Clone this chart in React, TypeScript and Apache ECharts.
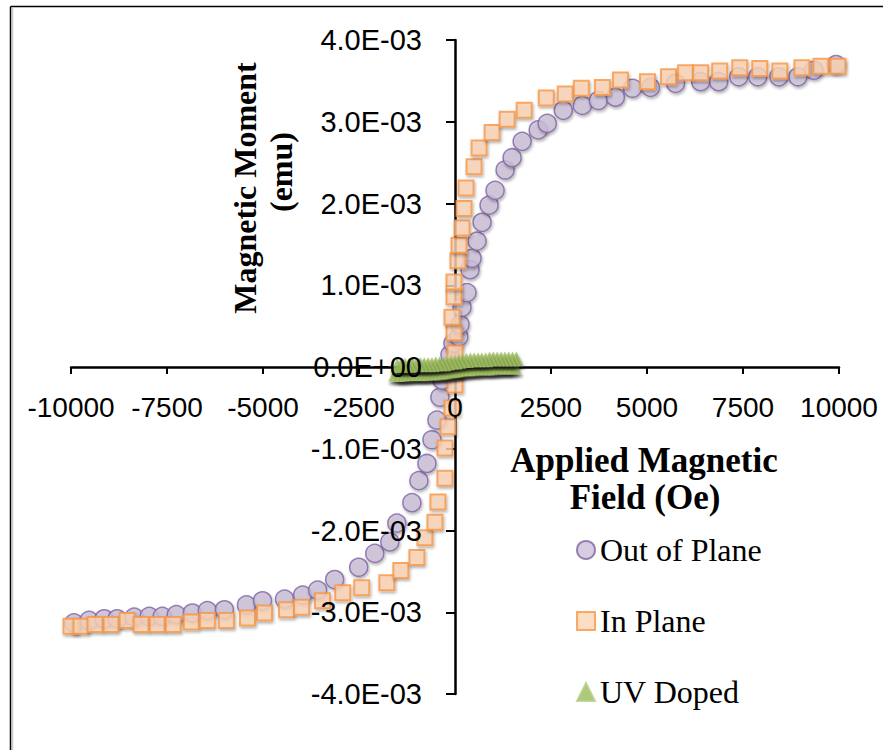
import React, { useEffect, useRef } from "react";
import * as echarts from "echarts";

// Applied magnetic field (Oe) and magnetic moment (in units of 1E-03 emu)
const outOfPlaneField = [-9922, -9530, -9138, -8799, -8355, -7963, -7624, -7258, -6841, -6449, -6005, -5431, -5013, -4439, -3969, -3577, -3133, -2507, -2089, -1697, -1514, -1123, -940, -731, -600, -470, -392, -339, -200, -131, -52, 100, 131, 183, 313, 392, 444, 574, 705, 888, 1044, 1305, 1488, 1749, 2167, 2402, 2820, 3316, 3734, 4178, 4621, 5091, 5744, 6397, 6867, 7389, 7885, 8433, 8930, 9347, 9922];
const outOfPlaneMoment = [-3.13, -3.10, -3.08, -3.08, -3.06, -3.05, -3.05, -3.03, -3.01, -2.98, -2.97, -2.91, -2.86, -2.84, -2.79, -2.73, -2.60, -2.45, -2.28, -2.14, -1.91, -1.66, -1.39, -1.18, -0.89, -0.65, -0.37, -0.16, 0.0, 0.15, 0.29, 0.37, 0.52, 0.73, 0.91, 1.19, 1.33, 1.54, 1.77, 1.98, 2.16, 2.41, 2.56, 2.76, 2.90, 2.98, 3.14, 3.20, 3.26, 3.30, 3.41, 3.42, 3.47, 3.49, 3.49, 3.55, 3.55, 3.55, 3.55, 3.63, 3.70];

const inPlaneField = [-10000, -9739, -9373, -8956, -8538, -8172, -7755, -7337, -6867, -6449, -5953, -5405, -4961, -4386, -3995, -3450, -2924, -2428, -1775, -1410, -992, -783, -522, -444, -261, -261, -183, -78, 0, 0, 0, -26, -78, -26, -26, 78, 104, 183, 235, 287, 496, 627, 966, 1358, 1802, 2376, 2872, 3290, 3838, 4308, 5013, 5561, 6005, 6397, 6893, 7415, 7937, 8460, 9034, 9530, 9974];
const inPlaneMoment = [-3.17, -3.17, -3.15, -3.15, -3.10, -3.15, -3.15, -3.15, -3.12, -3.10, -3.10, -3.07, -3.01, -2.97, -2.94, -2.86, -2.76, -2.70, -2.64, -2.49, -2.33, -2.09, -1.90, -1.65, -1.36, -0.99, -0.73, -0.50, -0.22, -0.04, 0.17, 0.42, 0.61, 0.86, 1.04, 1.30, 1.49, 1.70, 1.94, 2.19, 2.45, 2.68, 2.87, 3.03, 3.14, 3.29, 3.34, 3.41, 3.42, 3.51, 3.49, 3.55, 3.60, 3.60, 3.62, 3.66, 3.65, 3.62, 3.66, 3.68, 3.68];

const uvDopedField = [
  -1550, -1450, -1350, -1250, -1150, -1050, -950, -850, -750, -650, -550, -450, -350, -250, -150, -50,
  50, 150, 250, 350, 450, 550, 650, 750, 850, 950, 1050, 1150, 1250, 1350, 1450, 1550,
  1600, 1500, 1400, 1300, 1200, 1100, 1000, 900, 800, 700, 600, 500, 400, 300, 200, 100,
  0, -100, -200, -300, -400, -500, -600, -700, -800, -900, -1000, -1100, -1200, -1300, -1400, -1500,
];
const uvDopedMoment = [
  -0.09, -0.09, -0.09, -0.09, -0.08, -0.08, -0.08, -0.08, -0.08, -0.08, -0.07, -0.07, -0.07, -0.06, -0.06, -0.05,
  -0.04, -0.04, -0.03, -0.02, -0.02, -0.02, -0.01, -0.01, -0.01, -0.01, -0.01, 0.0, 0.0, 0.0, 0.0, 0.0,
  0.10, 0.10, 0.10, 0.10, 0.10, 0.10, 0.10, 0.10, 0.09, 0.09, 0.09, 0.09, 0.09, 0.08, 0.08, 0.07,
  0.06, 0.06, 0.05, 0.04, 0.04, 0.04, 0.03, 0.03, 0.03, 0.03, 0.03, 0.03, 0.02, 0.02, 0.02, 0.02,
];

const seriesNames = ["Out of Plane", "In Plane", "UV Doped"];
const yTickLabels = ["-4.0E-03", "-3.0E-03", "-2.0E-03", "-1.0E-03", "0.0E+00", "1.0E-03", "2.0E-03", "3.0E-03", "4.0E-03"];
const yTitleLines = ["Magnetic Moment", "(emu)"];
const xTitleLines = ["Applied Magnetic", "Field (Oe)"];

const X_MIN = -10000;
const X_MAX = 10000;
const Y_MIN = -4;
const Y_MAX = 4;

const pair = (xs: number[], ys: number[]) => xs.map((x, i) => [x, ys[i]]);

const shadow = {
  shadowBlur: 3,
  shadowColor: "rgba(0,0,0,0.35)",
  shadowOffsetX: 1,
  shadowOffsetY: 2,
};

const AXIS_FONT = "Liberation Sans";
const SERIF = "Liberation Serif";

const W = 883;
const H = 750;
const GRID = { left: 71, right: 44, top: 40, bottom: 56 };

const titleStyle = (text: string, size: number) => ({
  text,
  fill: "#000",
  font: `bold ${size}px "${SERIF}"`,
  textAlign: "center",
  textVerticalAlign: "middle",
  align: "center",
  verticalAlign: "middle",
});

export default function App() {
  const ref = useRef<HTMLDivElement>(null);
  useEffect(() => {
    if (!ref.current) return;
    const chart = echarts.init(ref.current, undefined, { renderer: "svg" });
    const plotW = W - GRID.left - GRID.right;
    const plotH = H - GRID.top - GRID.bottom;
    // offsets placing the label-only axes at the zero crossing
    const yLabelOffset = -(plotW * (0 - X_MIN)) / (X_MAX - X_MIN);
    const xLabelOffset = -(plotH * (0 - Y_MIN)) / (Y_MAX - Y_MIN);
    const xBase = {
      type: "value",
      min: X_MIN,
      max: X_MAX,
      interval: 2500,
      position: "bottom",
      splitLine: { show: false },
    };
    const yBase = {
      type: "value",
      min: Y_MIN,
      max: Y_MAX,
      interval: 1,
      position: "left",
      splitLine: { show: false },
    };
    chart.setOption({
      animation: false,
      backgroundColor: "#ffffff",
      grid: { ...GRID, containLabel: false, outerBoundsMode: "none" },
      xAxis: [
        {
          ...xBase,
          z: 0,
          axisLine: { show: true, onZero: true, lineStyle: { color: "#000", width: 2.5 } },
          axisTick: { show: true, length: 7, lineStyle: { color: "#000", width: 2 } },
          axisLabel: { show: false },
        },
        {
          ...xBase,
          z: 10,
          offset: xLabelOffset,
          axisLine: { show: false, onZero: false },
          axisTick: { show: false },
          axisLabel: {
            show: true,
            margin: 26,
            fontSize: 28,
            fontFamily: AXIS_FONT,
            color: "#000",
            formatter: (v: number) => String(v),
          },
        },
      ],
      yAxis: [
        {
          ...yBase,
          z: 0,
          axisLine: { show: true, onZero: true, lineStyle: { color: "#000", width: 2.5 } },
          axisTick: { show: true, length: 9, lineStyle: { color: "#000", width: 2 } },
          axisLabel: { show: false },
        },
        {
          ...yBase,
          z: 10,
          offset: yLabelOffset,
          axisLine: { show: false, onZero: false },
          axisTick: { show: false },
          axisLabel: {
            show: true,
            margin: 33,
            fontSize: 29,
            fontFamily: AXIS_FONT,
            color: "#000",
            formatter: (v: number) => yTickLabels[Math.round(v) + 4],
          },
        },
      ],
      legend: {
        orient: "vertical",
        left: 571,
        top: 529,
        itemGap: 39,
        itemWidth: 18,
        itemHeight: 18,
        data: seriesNames,
        textStyle: { fontFamily: SERIF, fontSize: 32, color: "#000" },
      },
      series: [
        {
          name: seriesNames[0],
          type: "scatter",
          xAxisIndex: 0,
          yAxisIndex: 0,
          symbol: "circle",
          symbolSize: 18,
          itemStyle: { color: "#ccc1da", borderColor: "#8064a2", borderWidth: 1.5, ...shadow },
          data: pair(outOfPlaneField, outOfPlaneMoment),
        },
        {
          name: seriesNames[1],
          type: "scatter",
          xAxisIndex: 0,
          yAxisIndex: 0,
          symbol: "rect",
          symbolSize: 15,
          itemStyle: { color: "#fcd5b5", borderColor: "#f79646", borderWidth: 2, ...shadow },
          data: pair(inPlaneField, inPlaneMoment),
        },
        {
          name: seriesNames[2],
          type: "scatter",
          xAxisIndex: 0,
          yAxisIndex: 0,
          symbol: "triangle",
          symbolSize: 14,
          itemStyle: {
            color: "#9bbb59",
            borderColor: "#b5cf85",
            borderWidth: 0.5,
            shadowBlur: 3,
            shadowColor: "rgba(0,0,0,0.6)",
            shadowOffsetX: 1,
            shadowOffsetY: 3,
          },
          data: pair(uvDopedField, uvDopedMoment),
        },
      ],
      graphic: [
        { type: "line", shape: { x1: 10.5, y1: 6.5, x2: 890, y2: 6.5 }, style: { stroke: "#000", lineWidth: 1.5 } },
        { type: "line", shape: { x1: 10.5, y1: 6.5, x2: 10.5, y2: 760 }, style: { stroke: "#000", lineWidth: 1.5 } },
        { type: "line", shape: { x1: 12.5, y1: 8, x2: 12.5, y2: 760 }, style: { stroke: "rgba(0,0,0,0.2)", lineWidth: 1.5 } },
        { type: "text", x: 245, y: 188, rotation: Math.PI / 2, z: 20, style: titleStyle(yTitleLines[0], 32) },
        { type: "text", x: 281, y: 172, rotation: Math.PI / 2, z: 20, style: titleStyle(yTitleLines[1], 32) },
        { type: "text", x: 644, y: 460, z: 20, style: titleStyle(xTitleLines[0], 35) },
        { type: "text", x: 645, y: 497, z: 20, style: titleStyle(xTitleLines[1], 35) },
      ],
    });
    return () => chart.dispose();
  }, []);
  return (
    <div
      ref={ref}
      style={{ position: "fixed", left: 0, top: 0, width: W, height: H, background: "#fff" }}
    />
  );
}
